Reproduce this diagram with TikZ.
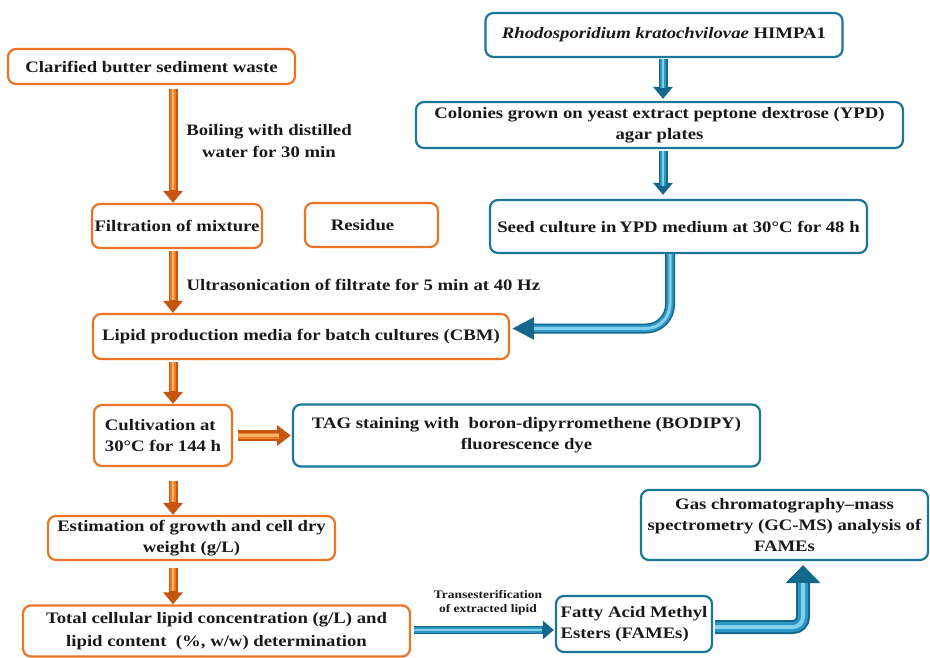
\documentclass[tikz,border=0pt]{standalone}
\usepackage{fontspec}
\setmainfont{Liberation Serif}[FakeStretch=1.17]
\usetikzlibrary{arrows.meta}
\definecolor{obord}{RGB}{234,116,36}
\definecolor{bbord}{RGB}{28,118,152}
\definecolor{odark}{RGB}{196,86,16}
\definecolor{omid}{RGB}{236,124,40}
\definecolor{olight}{RGB}{252,178,100}
\definecolor{bdark}{RGB}{20,104,140}
\definecolor{bmid}{RGB}{44,150,196}
\definecolor{blight}{RGB}{130,208,236}
\definecolor{txt}{RGB}{25,25,25}
\begin{document}
\begin{tikzpicture}[x=1pt,y=-1pt,
  box/.style={line width=2.2pt, rounded corners=8pt, fill=white, inner sep=0pt,
    align=center, text=txt, font=\fontsize{16}{21}\selectfont\bfseries},
  obox/.style={box, draw=obord},
  bbox/.style={box, draw=bbord},
  lbl/.style={text=txt, align=center, font=\fontsize{16}{22}\selectfont\bfseries},
  slbl/.style={text=txt, align=center, font=\fontsize{11.5}{14}\selectfont\bfseries},
  oarr/.style={draw=odark, line width=9pt, -{Triangle[width=19pt,length=12pt]},
    postaction={draw=omid, line width=6pt, -, shorten >=13pt},
    postaction={draw=olight, line width=2.5pt, -, shorten >=13pt}},
  barr/.style={draw=bdark, line width=9pt, -{Triangle[width=19pt,length=12pt]},
    postaction={draw=bmid, line width=6pt, -, shorten >=13pt},
    postaction={draw=blight, line width=2.5pt, -, shorten >=13pt}},
]
\path[use as bounding box] (0,0) rectangle (930,657);

% left column (orange)
\node[obox, minimum width=287pt, minimum height=35pt] (cbsw) at (151.5,66.5) {Clarified butter sediment waste};
\node[obox, minimum width=170pt, minimum height=44pt] (filt) at (177,226) {Filtration of mixture};
\node[obox, minimum width=133pt, minimum height=44pt] (resi) at (371.5,225) {Residue\hspace*{18pt}};
\node[obox, minimum width=416pt, minimum height=45pt] (cbm) at (301,336.5) {Lipid production media for batch cultures (CBM)};
\node[obox, minimum width=138pt, minimum height=61pt, align=left] (cult) at (163,435.5) {Cultivation at\\30°C for 144 h};
\node[obox, minimum width=287pt, minimum height=44pt] (est) at (191.5,538) {Estimation of growth and cell dry\\weight (g/L)};
\node[obox, minimum width=387pt, minimum height=51pt, font=\fontsize{16}{23}\selectfont\bfseries] (tot) at (216.5,631) {Total cellular lipid concentration (g/L) and\\lipid content~~(\%, w/w) determination};

% right column (blue)
\node[bbox, minimum width=357pt, minimum height=44pt] (rhodo) at (664,35) {\textit{Rhodosporidium kratochvilovae} HIMPA1};
\node[bbox, minimum width=487pt, minimum height=46pt] (colon) at (659.5,125) {Colonies grown on yeast extract peptone dextrose (YPD)\\agar plates};
\node[bbox, minimum width=377pt, minimum height=53pt] (seed) at (678.5,226.5) {Seed culture in\,YPD medium at 30°C for 48 h};
\node[bbox, minimum width=467pt, minimum height=62pt] (tag) at (526.5,435.5) {TAG staining with~~boron-dipyrromethene (BODIPY)\\fluorescence dye};
\node[bbox, minimum width=156pt, minimum height=56pt, align=left] (fame) at (634,624) {Fatty Acid Methyl\\Esters (FAMEs)};
\node[bbox, minimum width=287pt, minimum height=70pt] (gc) at (784.5,525) {Gas chromatography--mass\\spectrometry (GC-MS) analysis of\\FAMEs};

% axis coordinates
\coordinate (ax) at (173,0);
\coordinate (bx) at (663,0);
\coordinate (sx) at (670,0);
\coordinate (gx) at (803,0);

% orange arrows
\draw[oarr, shorten <=4pt] (cbsw.south -| ax) -- (filt.north -| ax);
\draw[oarr, shorten <=2pt] (filt.south -| ax) -- (cbm.north -| ax);
\draw[oarr, shorten <=2pt] (cbm.south -| ax) -- (cult.north -| ax);
\draw[oarr, shorten <=14pt] (cult.south -| ax) -- (est.north -| ax);
\draw[oarr, shorten <=7pt] (est.south -| ax) -- (tot.north -| ax);
\draw[oarr, line width=11pt, -{Triangle[width=20pt,length=14pt]}, shorten <=5pt, shorten >=1pt] (cult.east) -- (tag.west);

% blue arrows
\draw[barr, shorten <=1pt, shorten >=2pt] (rhodo.south -| bx) -- (colon.north -| bx);
\draw[barr, shorten <=2pt, shorten >=4pt] (colon.south -| bx) -- (seed.north -| bx);
\draw[draw=bdark, line width=10pt, rounded corners=24pt, -{Triangle[width=21pt,length=22pt]}, shorten >=2pt,
  postaction={draw=bmid, line width=7pt, -, shorten >=24pt},
  postaction={draw=blight, line width=3pt, -, shorten >=24pt}]
  (seed.south -| sx) |- ([yshift=8pt]cbm.east);
\draw[barr, line width=8pt, -{Triangle[width=18pt,length=11pt]}, shorten <=3pt, shorten >=1pt]
  ([yshift=1pt]tot.east) -- ([yshift=1pt]tot.east -| fame.west);
\draw[draw=bdark, line width=14pt, rounded corners=10pt, -{Triangle[width=34pt,length=18pt]}, shorten <=2pt, shorten >=4pt,
  postaction={draw=bmid, line width=10pt, -, shorten >=22pt},
  postaction={draw=blight, line width=4pt, -, shorten >=22pt}]
  ([yshift=-3pt]fame.east) -| (gc.south -| gx);

% labels
\node[lbl] (lboil) at (269,141) {Boiling with distilled\\water for 30 min};
\node[lbl, anchor=west] (lultra) at (183,285) {Ultrasonication of filtrate for 5 min at 40 Hz};
\node[slbl] (ltrans) at (488,603) {Transesterification\\of extracted lipid};
\end{tikzpicture}
\end{document}
